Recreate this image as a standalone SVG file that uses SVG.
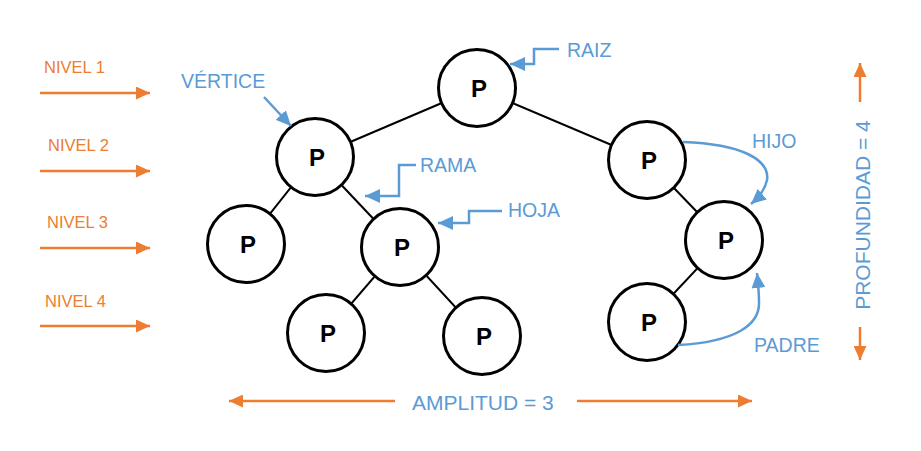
<svg xmlns="http://www.w3.org/2000/svg" width="921" height="451" viewBox="0 0 921 451">
<style>
.node circle{fill:#fff;stroke:#000;stroke-width:3}
.node text{font-family:"Liberation Sans",Arial,sans-serif;font-weight:bold;font-size:24px;fill:#000;text-anchor:middle}
.edge{stroke:#000;stroke-width:2;fill:none}
.blue{stroke:#5B9BD5;stroke-width:2.5;fill:none}
.orange{stroke:#ED7D31;stroke-width:2.5;fill:none}
.lbl{font-family:"Liberation Sans",Arial,sans-serif;font-size:19.5px;fill:#5B9BD5}
.lvl{font-family:"Liberation Sans",Arial,sans-serif;font-size:16.5px;fill:#ED7D31}
.big{font-family:"Liberation Sans",Arial,sans-serif;font-size:21px;fill:#5B9BD5}
</style>
<defs>
<marker id="ab" markerUnits="userSpaceOnUse" markerWidth="16" markerHeight="14" refX="15" refY="7" orient="auto">
<path d="M0,0 L15,7 L0,14 Z" fill="#5B9BD5"/>
</marker>
<marker id="ao" markerUnits="userSpaceOnUse" markerWidth="15" markerHeight="13" refX="14" refY="6.5" orient="auto">
<path d="M0,0 L14,6.5 L0,13 Z" fill="#ED7D31"/>
</marker>
</defs>
<rect width="921" height="451" fill="#fff"/>
<g id="connectors">
<line class="edge" x1="477" y1="88" x2="315" y2="157"/>
<line class="edge" x1="477" y1="88" x2="647" y2="160"/>
<line class="edge" x1="315" y1="157" x2="246" y2="244"/>
<line class="edge" x1="315" y1="157" x2="400" y2="247"/>
<line class="edge" x1="400" y1="247" x2="326" y2="333"/>
<line class="edge" x1="400" y1="247" x2="482" y2="336"/>
<line class="edge" x1="647" y1="160" x2="724" y2="240"/>
<line class="edge" x1="724" y1="240" x2="647" y2="322"/>
</g>
<g id="n1" class="node"><circle cx="477" cy="88" r="38.5"/><text x="479" y="97">P</text></g>
<g id="n2" class="node"><circle cx="315" cy="157" r="38.5"/><text x="317" y="166">P</text></g>
<g id="n3" class="node"><circle cx="647" cy="160" r="38.5"/><text x="649" y="169">P</text></g>
<g id="n4" class="node"><circle cx="246" cy="244" r="38.5"/><text x="248" y="253">P</text></g>
<g id="n5" class="node"><circle cx="400" cy="247" r="38.5"/><text x="402" y="256">P</text></g>
<g id="n6" class="node"><circle cx="724" cy="240" r="38.5"/><text x="726" y="249">P</text></g>
<g id="n7" class="node"><circle cx="326" cy="333" r="38.5"/><text x="328" y="342">P</text></g>
<g id="n8" class="node"><circle cx="482" cy="336" r="38.5"/><text x="484" y="345">P</text></g>
<g id="n9" class="node"><circle cx="647" cy="322" r="38.5"/><text x="649" y="331">P</text></g>
<g id="annotations">
<path class="blue" d="M264,97 L291,126" marker-end="url(#ab)"/>
<path class="blue" d="M559,49 H534 V64 H510" marker-end="url(#ab)"/>
<path class="blue" d="M416,165 H399 V196 H365" marker-end="url(#ab)"/>
<path class="blue" d="M502,211 H469 V223 H438" marker-end="url(#ab)"/>
<path class="blue" d="M683,142 C742,144 770,160 767,180 C765,190 759,197 751,204" marker-end="url(#ab)"/>
<path class="blue" d="M678,345 C735,342 760,325 759,302 C759,292 758,283 757,273" marker-end="url(#ab)"/>
<text class="lbl" x="181" y="88">VÉRTICE</text>
<text class="lbl" x="567" y="57">RAIZ</text>
<text class="lbl" x="420" y="172">RAMA</text>
<text class="lbl" x="508" y="217">HOJA</text>
<text class="lbl" x="752" y="148">HIJO</text>
<text class="lbl" x="754" y="352">PADRE</text>
</g>
<g id="levels">
<path class="orange" d="M40,93 H150" marker-end="url(#ao)"/>
<path class="orange" d="M40,171 H150" marker-end="url(#ao)"/>
<path class="orange" d="M40,248 H150" marker-end="url(#ao)"/>
<path class="orange" d="M40,326 H150" marker-end="url(#ao)"/>
<text class="lvl" x="44" y="73">NIVEL 1</text>
<text class="lvl" x="48" y="151">NIVEL 2</text>
<text class="lvl" x="47" y="228">NIVEL 3</text>
<text class="lvl" x="45" y="307">NIVEL 4</text>
</g>
<g id="amplitud">
<path class="orange" d="M395,401 H229" marker-end="url(#ao)"/>
<path class="orange" d="M577,401 H752" marker-end="url(#ao)"/>
<text class="big" x="412" y="410">AMPLITUD = 3</text>
</g>
<g id="profundidad">
<path class="orange" d="M860,102 V63" marker-end="url(#ao)"/>
<path class="orange" d="M860,327 V360" marker-end="url(#ao)"/>
<text class="big" transform="translate(870,215) rotate(-90)" text-anchor="middle">PROFUNDIDAD = 4</text>
</g>
</svg>
